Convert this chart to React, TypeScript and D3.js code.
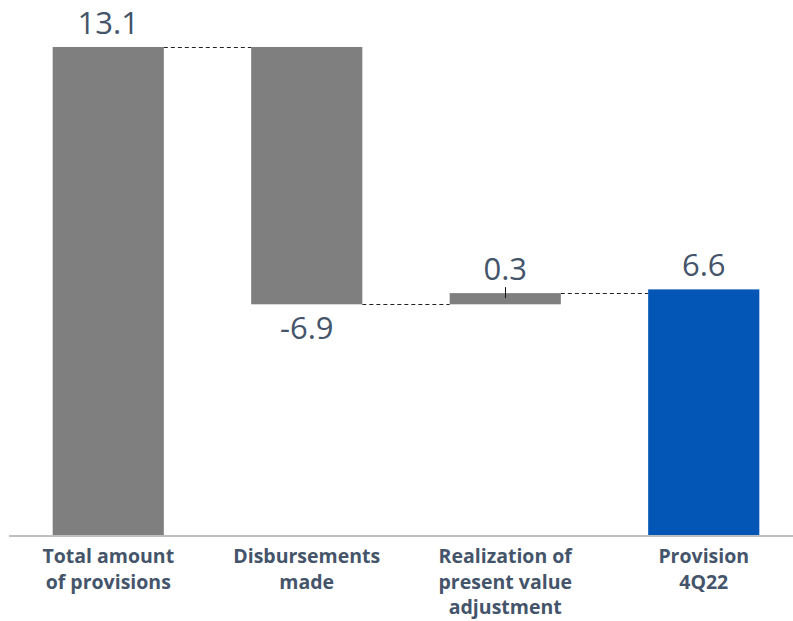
import React from "react";
import * as d3 from "d3";

const categories: string[][] = [
  ["Total amount", "of provisions"],
  ["Disbursements", "made"],
  ["Realization of", "present value", "adjustment"],
  ["Provision", "4Q22"],
];
const values: number[] = [13.1, -6.9, 0.3, 6.6];
const kinds: string[] = ["total", "delta", "delta", "total"];
const valueLabels: string[] = ["13.1", "-6.9", "0.3", "6.6"];

const W = 793;
const H = 621;
const GRAY = "#7F7F7F";
const BLUE = "#0356B6";
const TEXT = "#44546A";

export default function App() {
  // running start/end for each waterfall step
  let running = 0;
  const steps = values.map((v, i) => {
    let start: number;
    let end: number;
    if (kinds[i] === "total") {
      start = 0;
      end = v;
    } else {
      start = running;
      end = running + v;
    }
    running = end;
    return { i, v, start, end, lo: Math.min(start, end), hi: Math.max(start, end) };
  });

  const x = d3
    .scaleBand<number>()
    .domain(steps.map((s) => s.i))
    .range([9, 803])
    .paddingInner(0.44)
    .paddingOuter(0.22);
  const y = d3.scaleLinear().domain([0, 13.1]).range([535.5, 47]);
  const bw = x.bandwidth();

  return (
    <svg
      width={W}
      height={H}
      style={{ position: "absolute", left: 0, top: 0, display: "block" }}
      fontFamily="'Open Sans', sans-serif"
    >
      <rect width={W} height={H} fill="#fff" />
      {/* connectors between consecutive bars */}
      {steps.slice(0, -1).map((s) => {
        const x0 = (x(s.i) as number) + bw;
        const x1 = x(s.i + 1) as number;
        const yy = Math.round(y(s.end)) + 0.5;
        return (
          <line
            key={"c" + s.i}
            x1={x0}
            x2={x1}
            y1={yy}
            y2={yy}
            stroke="#222"
            strokeWidth={1}
            strokeDasharray="4 3"
          />
        );
      })}
      {/* bars */}
      {steps.map((s) => (
        <rect
          key={"b" + s.i}
          x={x(s.i)}
          y={y(s.hi)}
          width={bw}
          height={y(s.lo) - y(s.hi)}
          fill={s.i === steps.length - 1 ? BLUE : GRAY}
        />
      ))}
      {/* small tick on the adjustment step */}
      {steps
        .filter((s) => kinds[s.i] === "delta" && s.v > 0)
        .map((s) => {
          const cx = Math.round((x(s.i) as number) + bw / 2) + 0.5;
          return (
            <line
              key={"t" + s.i}
              x1={cx}
              x2={cx}
              y1={y(s.hi) - 6}
              y2={y(s.hi) + 5}
              stroke="#111"
              strokeWidth={1}
            />
          );
        })}
      {/* axis baseline */}
      <line x1={9} x2={W} y1={536} y2={536} stroke="#BFBFBF" strokeWidth={2} />
      {/* value labels */}
      {steps.map((s) => {
        const cx = (x(s.i) as number) + bw / 2;
        const ly = s.v >= 0 ? y(s.hi) - 13 : y(s.lo) + 35;
        return (
          <text
            key={"v" + s.i}
            x={cx}
            y={ly}
            textAnchor="middle"
            fontSize={31}
            fill={TEXT}
          >
            {valueLabels[s.i]}
          </text>
        );
      })}
      {/* category labels */}
      {categories.map((lines, i) => {
        const cx = (x(i) as number) + bw / 2;
        return (
          <text
            key={"k" + i}
            x={cx}
            y={563}
            textAnchor="middle"
            fontSize={19.5}
            fontWeight="bold"
            fill={TEXT}
          >
            {lines.map((ln, j) => (
              <tspan key={j} x={cx} dy={j === 0 ? 0 : 25.5}>
                {ln}
              </tspan>
            ))}
          </text>
        );
      })}
    </svg>
  );
}
